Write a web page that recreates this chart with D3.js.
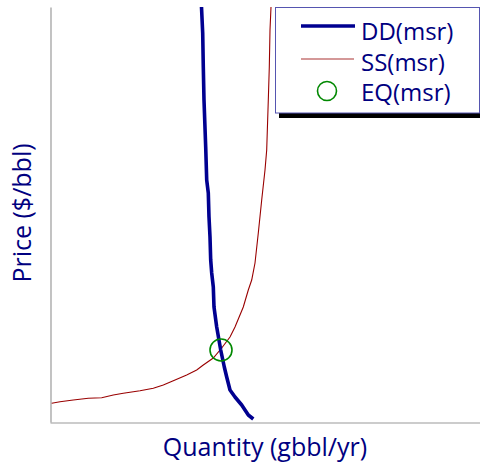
<!DOCTYPE html>
<html>
<head>
<meta charset="utf-8">
<script src="https://cdn.jsdelivr.net/npm/d3@7"></script>
<style>
  html, body { margin: 0; padding: 0; background: #fff; }
  svg { display: block; }
  text { font-family: "Open Sans", Lato, sans-serif; fill: #000080; }
</style>
</head>
<body>
<svg id="chart" width="480" height="466"></svg>
<script>
// Demand curve DD(msr): quantity (gbbl/yr) at each price ($/bbl)
const ddQuantity = [15.15, 15.27, 15.33, 15.4, 15.57, 15.67, 15.83, 15.9, 16.0, 16.07, 16.17, 16.33, 16.4, 16.67, 17.07, 17.43, 17.67, 18.0, 18.5, 19.17, 19.83, 20.33];
const ddPrice    = [166, 155.6, 142, 128.8, 110, 96.8, 91.6, 82, 74, 64.8, 59.6, 54, 46, 38, 28.8, 22, 18, 12.8, 10, 6.8, 2.8, 1.2];

// Supply curve SS(msr)
const ssQuantity = [0.17, 1.0, 2.33, 3.83, 5.17, 6.33, 7.33, 9.0, 10.33, 11.33, 12.33, 13.67, 14.67, 15.33, 16.33, 17.17, 18.0, 18.5, 19.33, 19.83, 20.17, 20.5, 20.83, 21.17, 21.5, 21.67, 21.83, 21.93, 22.0, 22.1];
const ssPrice    = [7.5, 8.1, 8.8, 9.5, 9.7, 10.8, 11.5, 12.5, 13.5, 14.8, 16.5, 18.8, 20.8, 22.8, 25.6, 29.6, 34, 38, 46, 52.8, 56.8, 63.6, 75.6, 88.8, 100.8, 108.8, 128.8, 142, 156.8, 166];

// Equilibrium point EQ(msr)
const eqQuantity = [17.1];
const eqPrice    = [28.8];

const seriesNames = ["DD(msr)", "SS(msr)", "EQ(msr)"];
const axisTitles = { x: "Quantity (gbbl/yr)", y: "Price ($/bbl)" };

const svg = d3.select("#chart");
const plot = { left: 50, right: 480, top: 7, bottom: 422 };

const x = d3.scaleLinear().domain([0, 43]).range([plot.left, plot.right]);
const y = d3.scaleLinear().domain([0, 166]).range([plot.bottom, plot.top]);

// Axes: plain gray lines, no ticks
const axisColor = "#9a9a9a";
svg.append("g")
  .attr("transform", `translate(0,${plot.bottom + 0.5})`)
  .call(d3.axisBottom(x).tickValues([]).tickSizeOuter(0))
  .call(g => g.select(".domain").attr("stroke", axisColor).attr("stroke-width", 1.2));
svg.append("g")
  .attr("transform", `translate(${plot.left + 0.5},0)`)
  .call(d3.axisLeft(y).tickValues([]).tickSizeOuter(0))
  .call(g => g.select(".domain").attr("stroke", axisColor).attr("stroke-width", 1.2));

const line = d3.line().x(d => x(d[0])).y(d => y(d[1]));

const ssData = ssQuantity.map((q, i) => [q, ssPrice[i]]);
const ddData = ddQuantity.map((q, i) => [q, ddPrice[i]]);

svg.append("path")
  .datum(ssData)
  .attr("d", line)
  .attr("fill", "none")
  .attr("stroke", "#990000")
  .attr("stroke-width", 1.1);

svg.append("path")
  .datum(ddData)
  .attr("d", line)
  .attr("fill", "none")
  .attr("stroke", "#000090")
  .attr("stroke-width", 3.6)
  .attr("stroke-linejoin", "round");

svg.selectAll("circle.eq")
  .data(eqQuantity.map((q, i) => [q, eqPrice[i]]))
  .join("circle")
  .attr("class", "eq")
  .attr("cx", d => x(d[0]))
  .attr("cy", d => y(d[1]))
  .attr("r", 11)
  .attr("fill", "none")
  .attr("stroke", "#008800")
  .attr("stroke-width", 1.6);

// Axis titles
svg.append("text")
  .attr("x", 265)
  .attr("y", 456)
  .attr("text-anchor", "middle")
  .attr("font-size", 25)
  .text(axisTitles.x);

svg.append("text")
  .attr("transform", `translate(31,213) rotate(-90)`)
  .attr("text-anchor", "middle")
  .attr("font-size", 25)
  .text(axisTitles.y);

// Legend with drop shadow
const legend = svg.append("g");
legend.append("rect")
  .attr("x", 279).attr("y", 113).attr("width", 201).attr("height", 5)
  .attr("fill", "#000");
legend.append("rect")
  .attr("x", 275.5).attr("y", 7.5).attr("width", 204).attr("height", 105.5)
  .attr("fill", "#fff")
  .attr("stroke", "#5555b0")
  .attr("stroke-width", 1);

const rowBase = [39.5, 70.5, 101];
const rowMid = [26, 59, 91];
legend.append("line")
  .attr("x1", 301).attr("x2", 355).attr("y1", rowMid[0]).attr("y2", rowMid[0])
  .attr("stroke", "#000090").attr("stroke-width", 3.4);
legend.append("line")
  .attr("x1", 301).attr("x2", 354).attr("y1", rowMid[1]).attr("y2", rowMid[1])
  .attr("stroke", "#aa3333").attr("stroke-width", 1.2);
legend.append("circle")
  .attr("cx", 327).attr("cy", rowMid[2]).attr("r", 9.5)
  .attr("fill", "none").attr("stroke", "#008800").attr("stroke-width", 1.6);

legend.selectAll("text.entry")
  .data(seriesNames)
  .join("text")
  .attr("class", "entry")
  .attr("x", 361)
  .attr("y", (d, i) => rowBase[i])
  .attr("font-size", 24)
  .text(d => d);
</script>
</body>
</html>
